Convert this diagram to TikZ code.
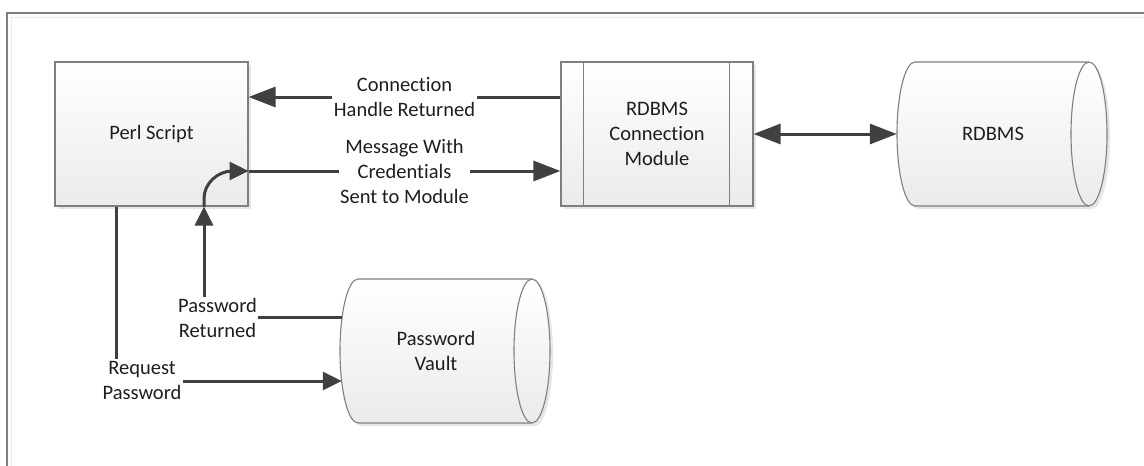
\documentclass[tikz,border=0pt]{standalone}
\usepackage{fontspec}
\setmainfont{Carlito}[Ligatures=NoCommon]
\usetikzlibrary{arrows.meta,shadows,calc}
\definecolor{wire}{HTML}{404040}
\definecolor{rim}{HTML}{7F7F7F}
\definecolor{ink}{HTML}{1E1E1E}
\begin{document}
\begin{tikzpicture}[x=1pt,y=-1pt,
  font=\fontsize{20.5}{25}\selectfont, text=ink,
  boxshadow/.style={drop shadow={shadow xshift=3pt, shadow yshift=-3pt, fill=black!14, opacity=0.7}},
  facefill/.style={draw=rim, line width=1.1pt, top color=white, bottom color=black!8},
  box/.style={rectangle, facefill, minimum width=193pt, minimum height=144pt, align=center, boxshadow},
  drumarea/.style={rectangle, inner sep=0pt, minimum width=210pt, minimum height=144pt},
  drum/.pic={
    \path[facefill, boxshadow] (-87,-72) -- (87,-72)
      arc[start angle=90, end angle=-90, x radius=18pt, y radius=72pt] -- (-87,72)
      arc[start angle=270, end angle=90, x radius=18pt, y radius=72pt] -- cycle;
    \draw[rim, line width=1.1pt] (87,-72) arc[start angle=90, end angle=270, x radius=18pt, y radius=72pt];
  },
  link/.style={draw=wire, line width=3pt},
  bigtip/.style={-{Triangle[length=27pt,width=20pt]}},
  smalltip/.style={-{Triangle[length=19pt,width=18pt]}},
  lbl/.style={fill=white, inner sep=1.5pt, align=center}]
\useasboundingbox (0,0) rectangle (1144,466);

% page frame
\draw[rim, line width=1.1pt] (7,466) -- (7,13) -- (1144,13);
\draw[black!8, line width=1pt] (11,466) -- (11,17) -- (1144,17);

% shapes
\node[box] (perl) at (151.5,134) {Perl Script};
\node[box, minimum width=192pt] (module) at (657,134) {RDBMS\\Connection\\Module};
\draw[rim, line width=1.1pt] ($(module.north west)+(23,0)$) -- ($(module.south west)+(23,0)$);
\draw[rim, line width=1.1pt] ($(module.north east)+(-24,0)$) -- ($(module.south east)+(-24,0)$);

\pic at (1002,134) {drum};
\node[drumarea, label={[xshift=-9pt]center:RDBMS}] (rdbms) at (1002,134) {};
\pic at (445,351) {drum};
\node[drumarea, label={[xshift=-9pt, align=center]center:Password\\Vault}] (vault) at (445,351) {};

% connection handle back to the script
\coordinate (hr) at ($(module.west)+(0,-37)$);
\draw[link, bigtip] (hr) -- (perl.east |- hr)
  node[lbl, midway] {Connection\\Handle Returned};

% credentials message to the module
\coordinate (ms) at ($(perl.east)+(0,37)$);
\draw[link, bigtip] (ms) -- (module.west |- ms)
  node[lbl, midway] {Message With\\Credentials\\Sent to Module};
\coordinate (pr) at ($(perl.south)+(52.5,0)$);
\draw[link, smalltip] (pr) -- ++(0,-8) .. controls +(0,-15) and +(-15,0) .. ($(ms)+(-16,0)$) -- (ms);

% module <-> database
\draw[link, {Triangle[length=27pt,width=20pt]}-{Triangle[length=27pt,width=20pt]}] (module.east) -- (rdbms.west);

% password returned from the vault
\coordinate (pv) at ($(vault.west)+(2,-34)$);
\draw[link, smalltip] (pv) -| (pr);
\node[lbl] (pwret) at ($(pr |- pv)+(13.5,1)$) {Password\\Returned};

% password request to the vault
\coordinate (rq) at ($(perl.south)+(-35.5,0)$);
\coordinate (rqend) at ($(vault.west)+(2,30)$);
\draw[link, smalltip] (rq) |- (rqend);
\node[lbl] (pwreq) at ($(rq |- rqend)+(26,-1)$) {Request\\Password};
\end{tikzpicture}
\end{document}
